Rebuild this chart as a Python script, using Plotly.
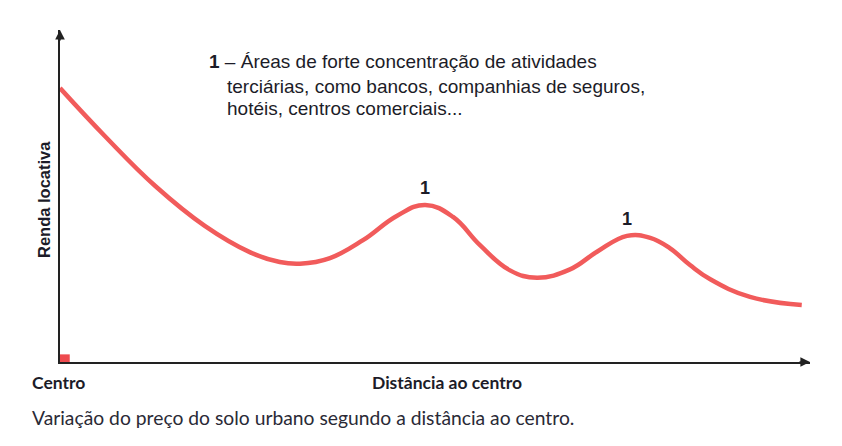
import plotly.graph_objects as go

# Distância ao centro (0-100) e renda locativa (0-100)
distancia = [0, 6.0, 12.7, 19.3, 25.3, 29.3, 32.0, 36.0, 40.4, 44.9, 48.7, 52.4, 56.0, 60.0,
             63.6, 68.0, 71.6, 75.6, 78.7, 81.3, 84.0, 86.7, 92.0, 98.9]
renda = [82.5, 68.0, 53.0, 41.0, 33.1, 30.1, 29.6, 31.3, 36.7, 44.0, 47.3, 43.7, 35.2, 27.6,
         25.4, 27.9, 33.2, 38.0, 37.4, 34.3, 29.2, 24.9, 19.6, 17.2]
picos = [10, 17]  # indices dos picos "1"

texto_nota = [
    "<b>1</b> – Áreas de forte concentração de atividades",
    "terciárias, como bancos, companhias de seguros,",
    "hotéis, centros comerciais...",
]
legenda = "Variação do preço do solo urbano segundo a distância ao centro."

cor_linha = "#f15b5b"
cor_texto = "#1c1c28"
fonte_nota = "Liberation Sans, Arial, sans-serif"
fonte_rotulos = "Lato, Noto Sans, sans-serif"

fig = go.Figure()
fig.add_trace(go.Scatter(
    x=distancia, y=renda, mode="lines",
    line=dict(color=cor_linha, width=4.5, shape="spline", smoothing=1.2),
    hoverinfo="skip", showlegend=False,
))

# quadradinho vermelho na origem
fig.add_shape(type="rect", xref="x", yref="y", x0=0, x1=1.3, y0=0, y1=2.3,
              fillcolor="#ee4b4f", line_width=0)


# posição na página (px) -> coordenadas "paper" da área do gráfico (60..810, 30..362)
def paper(px, py):
    return dict(x=(px - 60) / 750, y=(362 - py) / 332, xref="paper", yref="paper", showarrow=False)


anots = []
# setas dos eixos
anots.append(dict(x=100, y=0, xref="x", yref="y", ax=-12, ay=0, axref="pixel", ayref="pixel",
                  showarrow=True, arrowhead=2, arrowsize=1.2, arrowwidth=1.6, arrowcolor="#222", text=""))
anots.append(dict(x=0, y=100, xref="x", yref="y", ax=0, ay=12, axref="pixel", ayref="pixel",
                  showarrow=True, arrowhead=2, arrowsize=1.2, arrowwidth=1.6, arrowcolor="#222", text=""))

# rótulos "1" nos picos
for i in picos:
    anots.append(dict(x=distancia[i], y=renda[i], xref="x", yref="y", text="<b>1</b>",
                      showarrow=False, yshift=17, font=dict(family=fonte_nota, size=18, color=cor_texto)))

# nota explicativa
posicoes = [(207, 62), (225, 86), (225, 109)]
for (px, py), t in zip(posicoes, texto_nota):
    anots.append(dict(**paper(px, py), text=t, xanchor="left", yanchor="middle",
                      font=dict(family=fonte_nota, size=19, color=cor_texto)))

# rótulos dos eixos e legenda
anots.append(dict(**paper(58, 383), text="<b>Centro</b>", xanchor="center", yanchor="middle",
                  font=dict(family=fonte_rotulos, size=17.5, color=cor_texto)))
anots.append(dict(**paper(447, 383), text="<b>Distância ao centro</b>", xanchor="center", yanchor="middle",
                  font=dict(family=fonte_rotulos, size=17.5, color=cor_texto)))
anots.append(dict(**paper(44, 200), text="<b>Renda locativa</b>", xanchor="center", yanchor="middle",
                  textangle=-90, font=dict(family=fonte_nota, size=16.5, color=cor_texto)))
anots.append(dict(**paper(30, 418), text=legenda, xanchor="left", yanchor="middle",
                  font=dict(family=fonte_rotulos, size=19.3, color="#2a2a36")))

fig.update_layout(
    width=834, height=438,
    margin=dict(l=52, r=32, t=22, b=84),
    paper_bgcolor="white", plot_bgcolor="white",
    xaxis=dict(range=[0, 100], showline=True, linecolor="#222", linewidth=1.6, showgrid=False,
               zeroline=False, showticklabels=False, ticks=""),
    yaxis=dict(range=[0, 100], showline=True, linecolor="#222", linewidth=1.6, showgrid=False,
               zeroline=False, showticklabels=False, ticks=""),
    annotations=anots,
)

fig.write_html("out.html")
